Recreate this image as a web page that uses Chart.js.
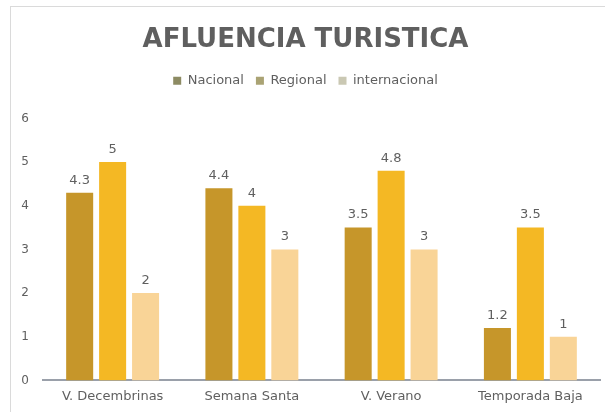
<!DOCTYPE html>
<html>
<head>
<meta charset="utf-8">
<script src="https://cdn.jsdelivr.net/npm/chart.js@4.4.1/dist/chart.umd.min.js"></script>
<style>
  html, body { margin: 0; padding: 0; background: #ffffff; }
  #wrap { position: relative; width: 605px; height: 412px; overflow: hidden; }
  #frame { position: absolute; left: 10px; top: 6px; width: 620px; height: 430px; border: 1px solid #dadada; box-sizing: border-box; }
  #c { position: absolute; left: 0; top: 0; }
</style>
</head>
<body>
<div id="wrap">
  <div id="frame"></div>
  <canvas id="c" width="605" height="412"></canvas>
</div>
<script>
const titleText = "AFLUENCIA TURISTICA";
const categories = ["V. Decembrinas", "Semana Santa", "V. Verano", "Temporada Baja"];
const seriesNames = ["Nacional", "Regional", "internacional"];
const nacional = [4.3, 4.4, 3.5, 1.2];
const regional = [5, 4, 4.8, 3.5];
const internacional = [2, 3, 3, 1];
const barColors = ["#C6962A", "#F4B824", "#F9D497"];
const legendColors = ["#8D8B63", "#AAA374", "#CAC8B3"];
const yTicks = [0, 1, 2, 3, 4, 5, 6];

const textColor = "#5f5f5f";
const fontFamily = "'DejaVu Sans', sans-serif";

const valueLabels = {
  id: "valueLabels",
  afterDatasetsDraw(chart) {
    const ctx = chart.ctx;
    ctx.save();
    ctx.font = "13px " + fontFamily;
    ctx.fillStyle = textColor;
    ctx.textAlign = "center";
    ctx.textBaseline = "bottom";
    chart.data.datasets.forEach((ds, i) => {
      const meta = chart.getDatasetMeta(i);
      meta.data.forEach((bar, j) => {
        ctx.fillText(String(ds.data[j]), bar.x, bar.y - 6);
      });
    });
    ctx.restore();
  }
};

const seriesData = [nacional, regional, internacional];

new Chart(document.getElementById("c"), {
  type: "bar",
  data: {
    labels: categories,
    datasets: seriesNames.map((name, i) => ({
      label: name,
      data: seriesData[i],
      backgroundColor: barColors[i],
      borderWidth: 0,
      categoryPercentage: 0.71,
      barPercentage: 0.82
    }))
  },
  options: {
    responsive: false,
    animation: false,
    devicePixelRatio: 1,
    layout: { padding: { left: 11, right: 5, top: 8, bottom: 0 } },
    plugins: {
      tooltip: { enabled: false },
      title: {
        display: true,
        text: titleText,
        color: textColor,
        font: { family: fontFamily, size: 26, weight: "bold" },
        padding: { top: 17, bottom: 6 }
      },
      subtitle: {
        display: true,
        text: " ",
        weight: 500,
        font: { size: 1 },
        padding: { top: 20, bottom: 0 }
      },
      legend: {
        display: true,
        position: "top",
        labels: {
          color: textColor,
          font: { family: fontFamily, size: 13 },
          boxWidth: 8,
          boxHeight: 8,
          padding: 12,
          generateLabels(chart) {
            const items = Chart.defaults.plugins.legend.labels.generateLabels(chart);
            items.forEach((it, i) => { it.fillStyle = legendColors[i]; it.strokeStyle = legendColors[i]; it.lineWidth = 0; });
            return items;
          }
        }
      }
    },
    scales: {
      x: {
        grid: { display: false, drawTicks: false },
        border: { display: true, color: "#9aa0aa", width: 2 },
        ticks: { color: textColor, font: { family: fontFamily, size: 13 }, padding: 8 }
      },
      y: {
        min: 0,
        max: 6,
        afterBuildTicks(scale) { scale.ticks = yTicks.map(v => ({ value: v })); },
        afterFit(scale) { scale.width = 32; },
        grid: { display: false, drawTicks: false },
        border: { display: false },
        ticks: { color: textColor, font: { family: fontFamily, size: 12 }, padding: 14 }
      }
    }
  },
  plugins: [valueLabels]
});
</script>
</body>
</html>
